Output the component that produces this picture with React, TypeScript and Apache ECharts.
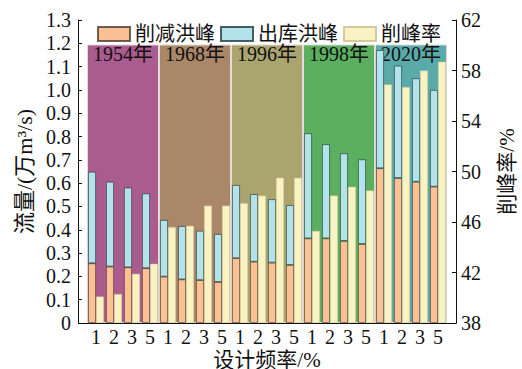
import React, { useEffect, useRef } from "react";
import * as echarts from "echarts";

// Flood events and design frequencies (%)
const years = ["1954", "1968", "1996", "1998", "2020"];
const frequencies = ["1", "2", "3", "5"];

// 削减洪峰 (万m³/s), one value per event × frequency
const reduction = [
  0.256, 0.242, 0.239, 0.235,
  0.199, 0.187, 0.184, 0.176,
  0.278, 0.263, 0.259, 0.249,
  0.363, 0.363, 0.352, 0.339,
  0.664, 0.622, 0.606, 0.585,
];

// 出库洪峰 (万m³/s), stacked on the reduction
const outflow = [
  0.393, 0.364, 0.342, 0.321,
  0.243, 0.229, 0.212, 0.206,
  0.314, 0.290, 0.272, 0.257,
  0.451, 0.404, 0.376, 0.363,
  0.507, 0.482, 0.444, 0.415,
];

// 削峰率 (%)
const reductionRate = [
  40.1, 40.3, 41.9, 42.7,
  45.6, 45.7, 47.3, 47.3,
  47.5, 48.1, 49.5, 49.5,
  45.3, 48.1, 48.8, 48.5,
  56.9, 56.7, 58.0, 58.7,
];

// Height of the coloured background band behind each event
const bandTop = [1.195, 1.195, 1.195, 1.195, 1.195];
const bandColors = ["#aa5c8e", "#aa8769", "#aaa56e", "#5caf5f", "#5aaaaa"];

const categories = years.flatMap((y) => frequencies.map((f) => `${y}-${f}`));

const FONT = "'Liberation Serif', 'Noto Sans CJK SC', serif";
const INK = "#111";

export default function App() {
  const ref = useRef<HTMLDivElement>(null);

  useEffect(() => {
    if (!ref.current) return;
    const chart = echarts.init(ref.current, null, { renderer: "svg" });

    chart.setOption({
      animation: false,
      backgroundColor: "#fff",
      textStyle: { fontFamily: FONT, color: INK },
      grid: {
        left: 87,
        right: 75,
        top: 20,
        bottom: 46,
        containLabel: false,
        outerBoundsMode: "none",
      },
      legend: {
        data: ["削减洪峰", "出库洪峰", "削峰率"],
        left: 92,
        top: 19,
        itemWidth: 32,
        itemHeight: 14,
        itemGap: 5,
        icon: "rect",
        textStyle: { fontFamily: FONT, fontSize: 20, lineHeight: 20, color: INK, padding: [0, 0, 0, 0] },
      },
      xAxis: [
        {
          type: "category",
          data: categories,
          name: "设计频率/%",
          nameLocation: "middle",
          nameGap: 26,
          nameMoveOverlap: false,
          nameTextStyle: { fontFamily: FONT, fontSize: 21, lineHeight: 21, color: INK },
          axisLine: { show: false },
          axisTick: { show: true, inside: true, length: 4, alignWithLabel: true, lineStyle: { color: INK } },
          axisLabel: {
            fontFamily: FONT,
            fontSize: 20,
            lineHeight: 18,
            color: INK,
            margin: 5,
            interval: 0,
            formatter: (v: string) => v.split("-")[1],
          },
          splitLine: { show: false },
        },
        {
          type: "category",
          data: years,
          show: false,
        },
      ],
      yAxis: [
        {
          type: "value",
          min: 0,
          max: 1.3,
          interval: 0.1,
          offset: 9,
          name: "流量/(万m³/s)",
          nameLocation: "middle",
          nameGap: 42,
          nameTextStyle: { fontFamily: FONT, fontSize: 22, color: INK },
          axisLine: { show: true, lineStyle: { color: INK, width: 1 } },
          axisTick: { show: true, inside: true, length: 4, lineStyle: { color: INK } },
          axisLabel: {
            fontFamily: FONT,
            fontSize: 20,
            color: INK,
            margin: 7,
            formatter: (v: number) => (v === 0 ? "0" : v.toFixed(1)),
          },
          splitLine: { show: false },
        },
        {
          type: "value",
          min: 38,
          max: 62,
          interval: 4,
          startValue: 38,
          offset: 9,
          position: "right",
          name: "削峰率/%",
          nameLocation: "middle",
          nameGap: 40,
          nameTextStyle: { fontFamily: FONT, fontSize: 21, color: INK },
          axisLine: { show: true, lineStyle: { color: INK, width: 1 } },
          axisTick: { show: true, inside: true, length: 4, lineStyle: { color: INK } },
          axisLabel: { fontFamily: FONT, fontSize: 20, color: INK, margin: 5 },
          splitLine: { show: false },
        },
      ],
      graphic: [
        {
          type: "line",
          z: 50,
          shape: { x1: 78, y1: 323.5, x2: 456.5, y2: 323.5 },
          style: { stroke: INK, lineWidth: 1 },
        },
      ],
      series: [
        {
          name: "band",
          type: "bar",
          xAxisIndex: 1,
          yAxisIndex: 0,
          barWidth: "100%",
          z: 1,
          silent: true,
          data: bandTop.map((v, i) => ({
            value: v,
            itemStyle: { color: bandColors[i] },
          })),
          itemStyle: { borderColor: "#e4dcdc", borderWidth: 1 },
          label: {
            show: true,
            position: "insideTop",
            distance: 0,
            formatter: "{b}年",
            fontFamily: FONT,
            fontSize: 20,
            lineHeight: 20,
            color: INK,
          },
        },
        {
          name: "削减洪峰",
          type: "bar",
          stack: "flow",
          xAxisIndex: 0,
          yAxisIndex: 0,
          barWidth: 8,
          barGap: "0%",
          z: 2,
          data: reduction,
          itemStyle: { color: "#fbc194", borderColor: "rgba(60,50,40,0.75)", borderWidth: 0.8 },
        },
        {
          name: "出库洪峰",
          type: "bar",
          stack: "flow",
          xAxisIndex: 0,
          yAxisIndex: 0,
          barWidth: 8,
          barGap: "0%",
          z: 2,
          data: outflow,
          itemStyle: { color: "#b3e2ea", borderColor: "rgba(30,60,60,0.8)", borderWidth: 0.8 },
        },
        {
          name: "削峰率",
          type: "bar",
          xAxisIndex: 0,
          yAxisIndex: 1,
          barWidth: 8,
          barGap: "0%",
          z: 2,
          data: reductionRate,
          itemStyle: { color: "#f9f3c3", borderColor: "rgba(200,190,140,0.8)", borderWidth: 0.6 },
        },
      ],
    });

    return () => chart.dispose();
  }, []);

  return (
    <div
      ref={ref}
      style={{ position: "fixed", left: 0, top: 0, width: 522, height: 369 }}
    />
  );
}
